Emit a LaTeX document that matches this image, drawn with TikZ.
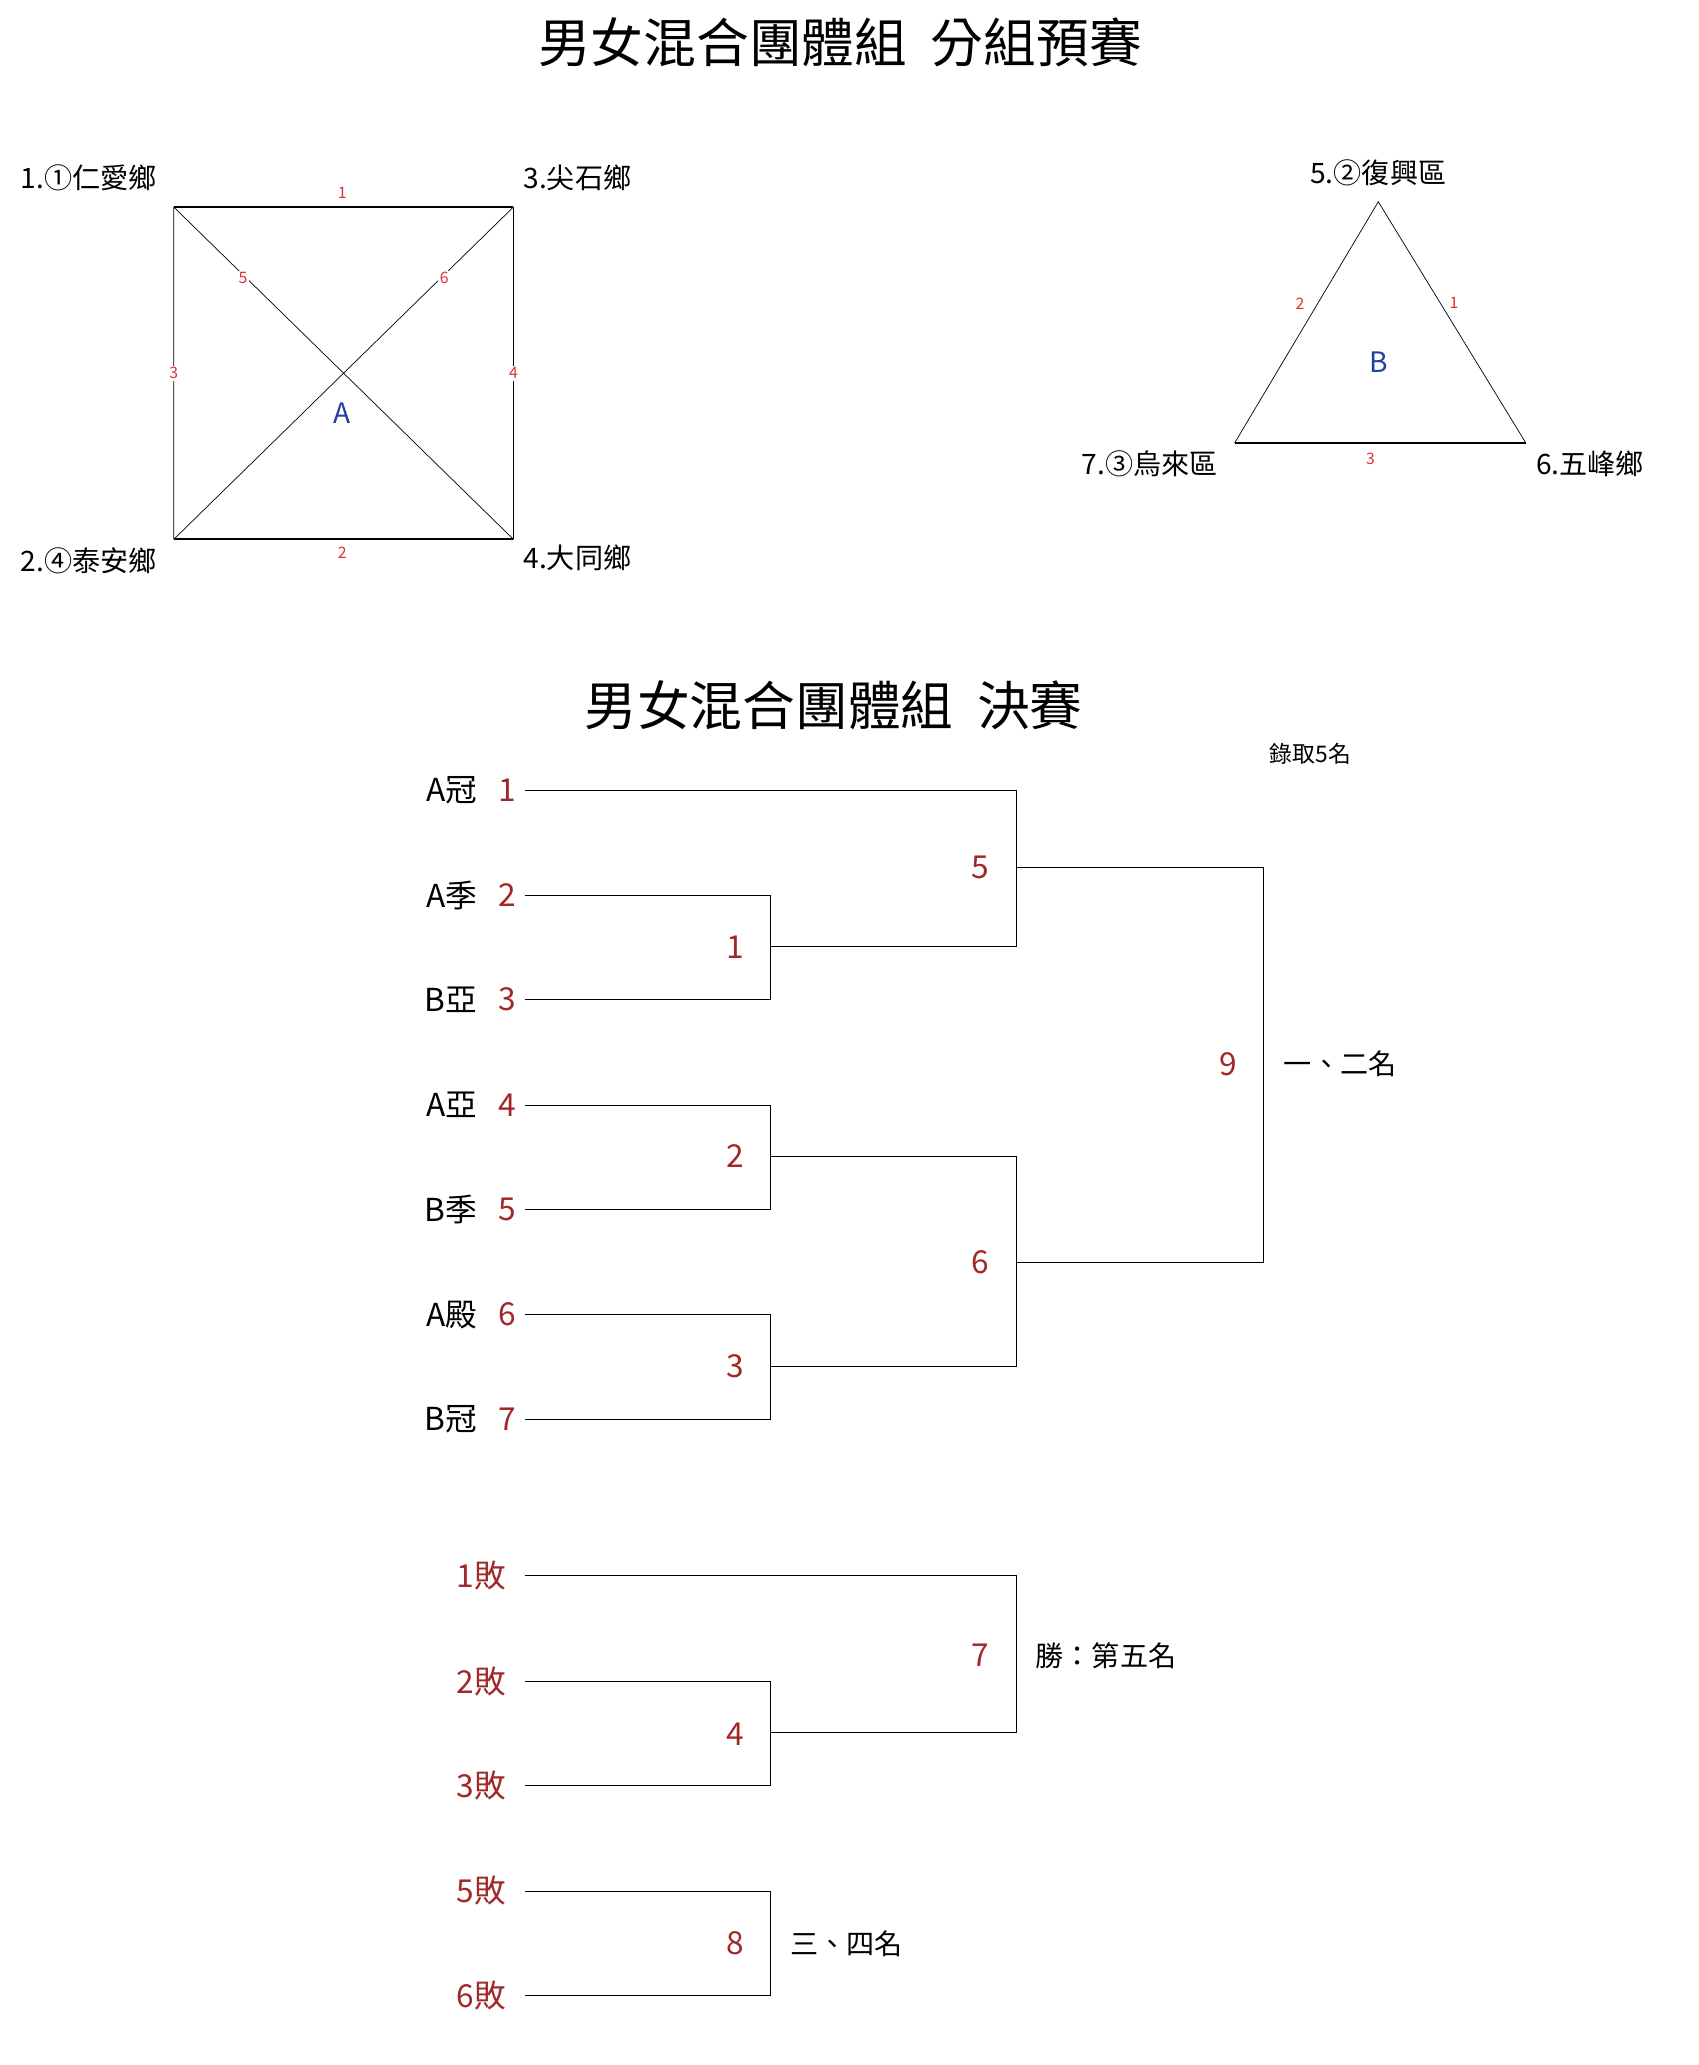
\documentclass[tikz,border=0pt]{standalone}
\usepackage{fontspec}
\setmainfont{Noto Sans CJK TC}
\usepackage{tikz}
\usetikzlibrary{positioning}

\definecolor{seedred}{HTML}{A02828}
\definecolor{edgered}{HTML}{E03030}
\definecolor{groupblue}{HTML}{2040A0}

\tikzset{
  headline/.style={font=\fontsize{30}{34}\selectfont},
  team/.style={font=\fontsize{16}{18}\selectfont},
  edgenum/.style={font=\fontsize{9}{10}\selectfont, text=edgered, fill=white, inner sep=1pt},
  grp/.style={font=\fontsize{16}{18}\selectfont, text=groupblue},
  entry/.style={font=\fontsize{18}{20}\selectfont, anchor=east},
  seed/.style={font=\fontsize{18}{20}\selectfont, text=seedred},
  game/.style={font=\fontsize{18}{20}\selectfont, text=seedred},
  note/.style={font=\fontsize{16}{18}\selectfont, anchor=west},
}

\begin{document}
\begin{tikzpicture}[x=0.02612cm, y=-0.02637cm]
\useasboundingbox (0,0) rectangle (1300,1566);

% Titles
\node [headline] (t1) at (643,32) {男女混合團體組\ \ 分組預賽};
\node [headline] (t2) at (638,535) {男女混合團體組\ \ 決賽};

% Group A square
\coordinate (a1) at (133,157);
\coordinate (a3) at (393,157);
\coordinate (a2) at (133,409);
\coordinate (a4) at (393,409);
\draw [line width=1.2pt] (a1) -- (a3);
\draw [line width=1.2pt] (a2) -- (a4);
\draw (a1) -- (a2) (a3) -- (a4) (a1) -- (a4) (a3) -- (a2);
\node [team] at (68,135) {1.①仁愛鄉};
\node [team] at (442,135) {3.尖石鄉};
\node [team] at (68,425) {2.④泰安鄉};
\node [team] at (442,423) {4.大同鄉};
\foreach \n/\x/\y in {1/262/146, 2/262/419, 3/133/283, 4/393/283, 5/186/211, 6/340/211}
  \node [edgenum] at (\x,\y) {\n};
\node [grp] at (262,313) {A};

% Group B triangle
\coordinate (b5) at (1055,153);
\coordinate (b7) at (945,336);
\coordinate (b6) at (1168,336);
\draw (b7) -- (b5) -- (b6);
\draw [line width=1.2pt] (b7) -- (b6);
\node [team] at (1055,131) {5.②復興區};
\node [team] at (880,352) {7.③烏來區};
\node [team] at (1217,352) {6.五峰鄉};
\foreach \n/\x/\y in {2/995/230, 1/1113/230, 3/1049/348}
  \node [edgenum] at (\x,\y) {\n};
\node [grp] at (1055,275) {B};

% Final bracket entries
\foreach \t/\s/\y in {A冠/1/599, A季/2/679, B亞/3/758, A亞/4/838, B季/5/917, A殿/6/997, B冠/7/1076} {
  \node [entry] at (370,\y) {\t};
  \node [seed] at (388,\y) {\s};
  \coordinate (r\s) at (402,\y);
}
\coordinate (m1) at (590,718);
\coordinate (m2) at (590,877);
\coordinate (m3) at (590,1036);
\coordinate (m5) at (778,658);
\coordinate (m6) at (778,957);
\coordinate (m9) at (967,807);
\draw (r1) -| (m5 |- m1) -- (m1);
\draw (r2) -| (m1) |- (r3);
\draw (r4) -| (m2) |- (r5);
\draw (r6) -| (m3) |- (r7);
\draw (m2) -| (m6) |- (m3);
\draw (m5) -| (m9) |- (m6);
\foreach \n/\x/\y in {1/563/718, 2/563/877, 3/563/1036, 5/750/658, 6/750/957, 9/940/807}
  \node [game] at (\x,\y) {\n};
\node [note] at (978,807) {一、二名};
\node [font=\fontsize{13}{15}\selectfont] at (1003,572) {錄取5名};

% Placement bracket
\foreach \t/\y in {1/1195, 2/1275, 3/1354, 5/1434, 6/1513} {
  \node [entry, text=seedred] at (392,\y) {\t 敗};
  \coordinate (l\t) at (402,\y);
}
\coordinate (m4) at (590,1314);
\coordinate (m7) at (778,1255);
\coordinate (m8) at (590,1474);
\draw (l2) -| (m4) |- (l3);
\draw (l1) -| (m7) |- (m4);
\draw (l5) -| (m8) |- (l6);
\foreach \n/\x/\y in {4/563/1315, 7/750/1255, 8/563/1474}
  \node [game] at (\x,\y) {\n};
\node [note] at (788,1256) {勝：第五名};
\node [note] at (600,1474) {三、四名};
\end{tikzpicture}
\end{document}
